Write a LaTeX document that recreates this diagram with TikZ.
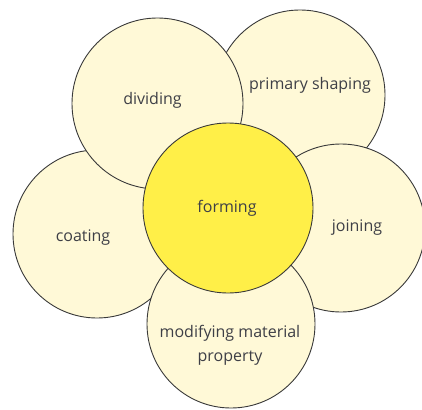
\documentclass[tikz,border=0pt]{standalone}
\usepackage{fontspec}
\setmainfont{Open Sans}
\usepackage{tikz}
\usetikzlibrary{shapes.geometric}
\definecolor{petalfill}{HTML}{FFF9D7}
\definecolor{corefill}{HTML}{FFEF48}
\definecolor{rimgray}{HTML}{3A3A3A}
\definecolor{wordgray}{HTML}{3E3F46}
\tikzstyle{petal} = [circle, minimum size=170pt, inner sep=0pt, draw=rimgray, line width=0.9pt, fill=petalfill]
\tikzstyle{core} = [petal, fill=corefill]
\tikzstyle{word} = [text=wordgray, font=\fontsize{16}{24}\selectfont, align=center, inner sep=0pt]

\begin{document}
\begin{tikzpicture}[x=1pt, y=-1pt]
	\useasboundingbox (0,0) rectangle (422,409);
	
	\node (coating) [petal, minimum size=168pt, label={[word, xshift=-14pt, yshift=-4pt]center:coating}] at (97,234) {};
	\node (primary) [petal, label={[word, xshift=10pt, yshift=10pt]center:primary shaping}] at (300,95) {};
	\node (joining) [petal, minimum size=168pt, label={[word, xshift=16pt]center:joining}] at (341,228) {};
	\node (dividing) [petal, minimum size=171pt, label={[word, xshift=-5pt, yshift=3pt]center:dividing}] at (157.5,103.5) {};
	\node (modifying) [petal, minimum size=168pt, label={[word, xshift=-1pt, yshift=-21pt]center:modifying material\\property}] at (231,324) {};
	\node (forming) [core, label={[word, xshift=-1pt]center:forming}] at (228,208) {};
	
\end{tikzpicture}
\end{document}
